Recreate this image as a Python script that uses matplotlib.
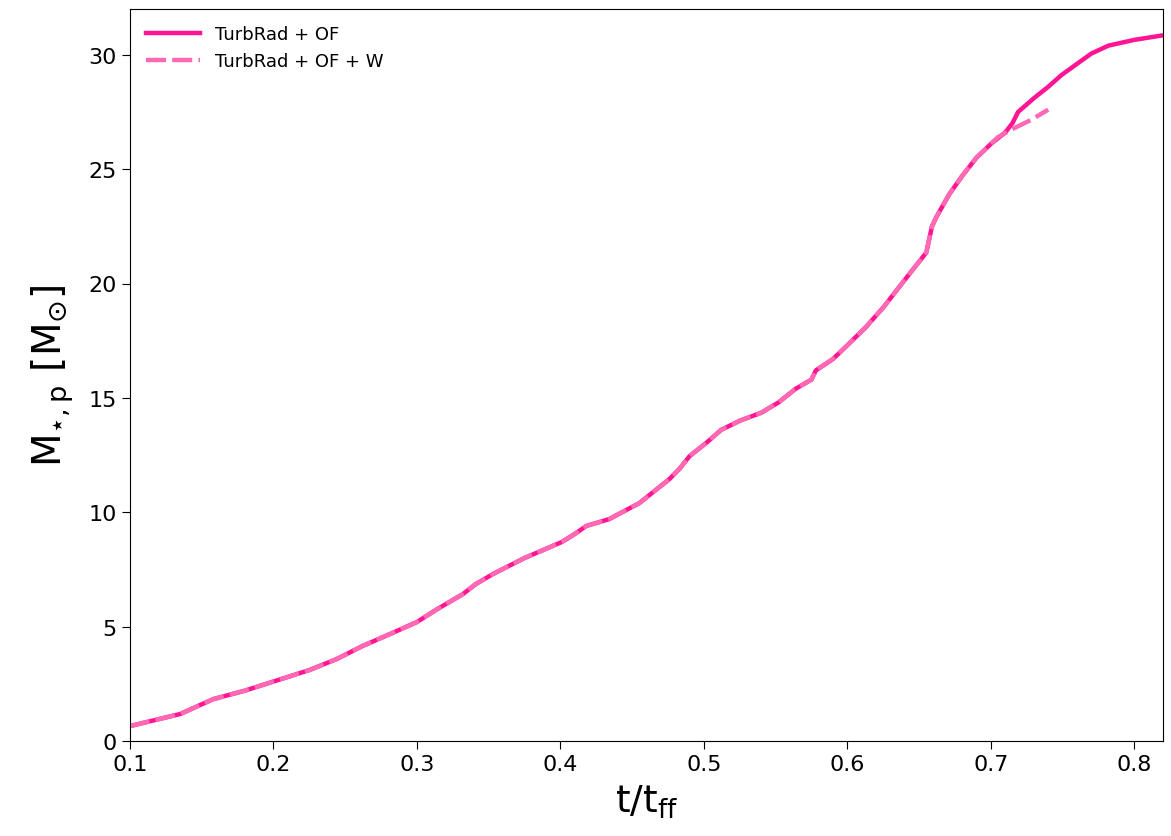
import matplotlib

matplotlib.use("Agg")
import matplotlib.pyplot as plt
import numpy as np

# TurbRad + OF (solid)
t_of = [0.100, 0.115, 0.135, 0.158, 0.180, 0.201, 0.225, 0.244, 0.262, 0.281,
        0.300, 0.314, 0.332, 0.341, 0.353, 0.375, 0.401, 0.410, 0.418, 0.434,
        0.455, 0.469, 0.476, 0.483, 0.490, 0.502, 0.512, 0.525, 0.540, 0.552,
        0.564, 0.575, 0.578, 0.590, 0.600, 0.613, 0.625, 0.643, 0.655, 0.659,
        0.662, 0.671, 0.680, 0.690, 0.700, 0.710, 0.715, 0.719, 0.730, 0.740,
        0.749, 0.760, 0.770, 0.782, 0.800, 0.820]
m_of = [0.65, 0.88, 1.18, 1.83, 2.20, 2.62, 3.10, 3.58, 4.15, 4.67,
        5.20, 5.76, 6.42, 6.86, 7.30, 8.00, 8.70, 9.05, 9.40, 9.70,
        10.40, 11.10, 11.45, 11.90, 12.45, 13.05, 13.60, 14.00, 14.35, 14.80,
        15.40, 15.80, 16.20, 16.70, 17.30, 18.10, 18.95, 20.40, 21.35, 22.50,
        22.90, 23.90, 24.70, 25.50, 26.10, 26.60, 27.00, 27.50, 28.10, 28.60,
        29.10, 29.60, 30.05, 30.40, 30.65, 30.85]

# TurbRad + OF + W (dashed)
t_ofw = [0.100, 0.115, 0.135, 0.158, 0.180, 0.201, 0.225, 0.244, 0.262, 0.281,
         0.300, 0.314, 0.332, 0.341, 0.353, 0.375, 0.401, 0.410, 0.418, 0.434,
         0.455, 0.469, 0.476, 0.483, 0.490, 0.502, 0.512, 0.525, 0.540, 0.552,
         0.564, 0.575, 0.578, 0.590, 0.600, 0.613, 0.625, 0.643, 0.655, 0.659,
         0.662, 0.671, 0.680, 0.690, 0.700, 0.705, 0.715, 0.728, 0.740]
m_ofw = [0.65, 0.88, 1.18, 1.83, 2.20, 2.62, 3.10, 3.58, 4.15, 4.67,
         5.20, 5.76, 6.42, 6.86, 7.30, 8.00, 8.70, 9.05, 9.40, 9.70,
         10.40, 11.10, 11.45, 11.90, 12.45, 13.05, 13.60, 14.00, 14.35, 14.80,
         15.40, 15.80, 16.20, 16.70, 17.30, 18.10, 18.95, 20.40, 21.35, 22.50,
         22.90, 23.90, 24.70, 25.50, 26.10, 26.40, 26.75, 27.15, 27.60]

fig = plt.figure(figsize=(11.71, 8.37), dpi=100)
ax = fig.add_axes([130 / 1171, 1 - 742 / 837, 1033 / 1171, 732 / 837])

ax.plot(t_of, m_of, color="#ff1493", lw=3.2, ls="-", label="TurbRad + OF")
ax.plot(t_ofw, m_ofw, color="#ff69b4", lw=3.2, ls=(0, (4.5, 1.4)),
        label="TurbRad + OF + W")

ax.set_xlim(0.1, 0.82)
ax.set_ylim(0, 32)
ax.set_xticks(np.arange(0.1, 0.81, 0.1))
ax.set_yticks([0, 5, 10, 15, 20, 25, 30])
ax.tick_params(labelsize=16, length=6)
ax.set_xlabel(r"$\mathrm{t/t_{ff}}$", fontsize=27, labelpad=6)
ax.set_ylabel(r"$\mathrm{M_{\star,p}\ [M_{\odot}]}$", fontsize=28, labelpad=9)
ax.legend(loc="upper left", frameon=False, fontsize=13, handlelength=3,
          borderaxespad=0.5)

fig.savefig("out.png", dpi=100)
